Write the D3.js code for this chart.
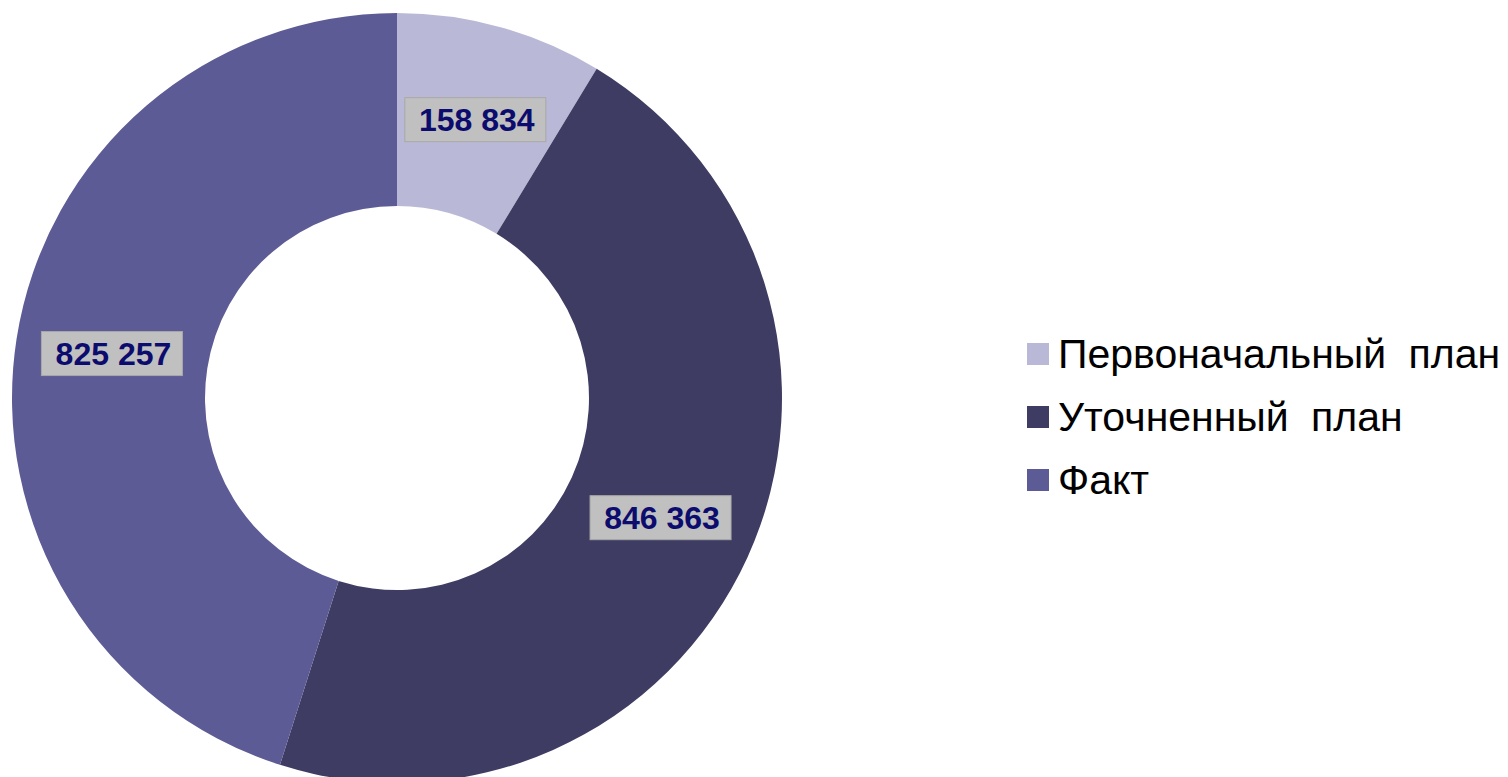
<!DOCTYPE html>
<html><head><meta charset="utf-8">
<script src="https://cdn.jsdelivr.net/npm/d3@7"></script>
<style>html,body{margin:0;padding:0;background:#fff;overflow:hidden}</style>
</head><body>
<svg id="chart" width="1508" height="777"></svg>
<script>
const categories = ["Первоначальный план", "Уточненный план", "Факт"];
const values = [158834, 846363, 825257];
const labels = ["158 834", "846 363", "825 257"];
const colors = ["#B9B9D7", "#3E3C63", "#5D5B95"];

const svg = d3.select("#chart");
const cx = 397, cy = 398, rOuter = 385, rInner = 192;
const g = svg.append("g").attr("transform", `translate(${cx},${cy})`);
const pie = d3.pie().sort(null).value(d => d)(values);
const arc = d3.arc().innerRadius(rInner).outerRadius(rOuter);
g.selectAll("path.slice").data(pie).join("path")
  .attr("class","slice")
  .attr("d", arc)
  .attr("fill", (d,i) => colors[i]);

const labelArc = d3.arc().innerRadius(289).outerRadius(289);
const lg = g.selectAll("g.lbl").data(pie).join("g").attr("class","lbl")
  .attr("transform", d => `translate(${labelArc.centroid(d)})`);
lg.append("rect").attr("x",-70).attr("y",-22).attr("width",141).attr("height",44)
  .attr("fill","#C0C0C0").attr("stroke","#A8A8A8").attr("stroke-width",1);
lg.append("text").attr("text-anchor","middle").attr("dy","0.36em").attr("x",2)
  .attr("font-family","Liberation Sans, Arial, sans-serif").attr("font-weight","bold")
  .attr("font-size",32).attr("fill","#0C0C6E")
  .text((d,i) => labels[i]);

const leg = svg.append("g").attr("transform","translate(1027,354)");
const items = leg.selectAll("g").data(categories).join("g")
  .attr("transform",(d,i)=>`translate(0,${i*63})`);
items.append("rect").attr("x",0).attr("y",-11).attr("width",22).attr("height",22)
  .attr("fill",(d,i)=>colors[i]);
items.append("text").attr("x",31).attr("y",14)
  .attr("font-family","Liberation Sans, Arial, sans-serif").attr("font-size",41)
  .attr("word-spacing",11)
  .attr("fill","#000").text(d=>d);
</script>
</body></html>
